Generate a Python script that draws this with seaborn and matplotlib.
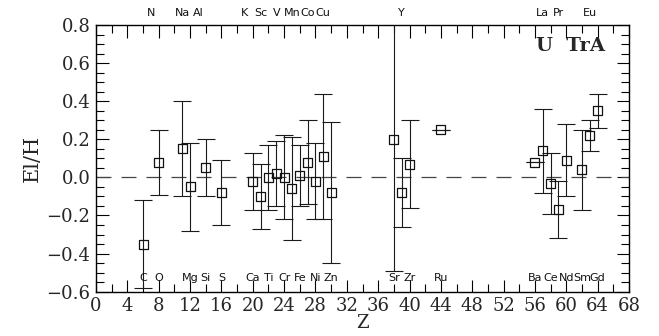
import matplotlib
matplotlib.use("Agg")
import matplotlib.pyplot as plt
import matplotlib.transforms as mtransforms
from matplotlib.ticker import MultipleLocator
import seaborn as sns
import pandas as pd

# Abundances [El/H] for U TrA
elements = ["C", "O", "Na", "Mg", "Si", "S", "Ca", "Sc", "Ti", "V", "Cr", "Mn", "Fe",
            "Co", "Ni", "Cu", "Zn", "Sr", "Y", "Zr", "Ru", "Ba", "La", "Ce", "Pr",
            "Nd", "Sm", "Eu", "Gd"]
z_num = [6, 8, 11, 12, 14, 16, 20, 21, 22, 23, 24, 25, 26, 27, 28, 29, 30, 38, 39, 40,
         44, 56, 57, 58, 59, 60, 62, 63, 64]
el_h = [-0.35, 0.08, 0.15, -0.05, 0.05, -0.08, -0.02, -0.10, 0.00, 0.02, 0.00, -0.06,
        0.01, 0.08, -0.02, 0.11, -0.08, 0.20, -0.08, 0.07, 0.25, 0.08, 0.14, -0.03,
        -0.17, 0.09, 0.04, 0.22, 0.35]
el_err = [0.23, 0.17, 0.25, 0.23, 0.15, 0.17, 0.15, 0.17, 0.17, 0.17, 0.22, 0.27, 0.16,
          0.22, 0.20, 0.33, 0.37, 0.69, 0.18, 0.23, 0.0, 0.0, 0.22, 0.16, 0.15, 0.19,
          0.21, 0.08, 0.09]

# element names printed along the axes (odd Z on top, even Z at the bottom)
label_el = ["C", "N", "O", "Na", "Mg", "Al", "Si", "S", "K", "Ca", "Sc", "Ti", "V", "Cr",
            "Mn", "Fe", "Co", "Ni", "Cu", "Zn", "Sr", "Y", "Zr", "Ru", "Ba", "La", "Ce",
            "Pr", "Nd", "Sm", "Eu", "Gd"]
label_z = [6, 7, 8, 11, 12, 13, 14, 16, 19, 20, 21, 22, 23, 24, 25, 26, 27, 28, 29, 30,
           38, 39, 40, 44, 56, 57, 58, 59, 60, 62, 63, 64]

df = pd.DataFrame({"element": elements, "Z": z_num, "ElH": el_h, "err": el_err})

sns.set_style("ticks")
plt.rcParams["font.family"] = ["DejaVu Serif"]

fig = plt.figure(figsize=(6.59, 3.36), dpi=100)
ax = fig.add_axes([96 / 659, 1 - 291.7 / 336, 533 / 659, 266.7 / 336])

# reference line at zero
ax.axhline(0, color="#444444", lw=0.9, dashes=(12, 8), zorder=1)

# error bars
ax.errorbar(df["Z"], df["ElH"], yerr=df["err"], fmt="none", ecolor="#1a1a1a",
            elinewidth=0.8, capsize=6.5, capthick=0.8, zorder=2)

# open squares (lines show through, as in the original)
sns.scatterplot(data=df, x="Z", y="ElH", marker="s", s=42, facecolor="none",
                edgecolor="#111111", linewidth=0.9, ax=ax, zorder=3, legend=False)

ax.set_xlim(0, 68)
ax.set_ylim(-0.6, 0.8)
ax.xaxis.set_major_locator(MultipleLocator(4))
ax.xaxis.set_minor_locator(MultipleLocator(2))
ax.yaxis.set_major_locator(MultipleLocator(0.2))
ax.yaxis.set_minor_locator(MultipleLocator(0.05))
ax.yaxis.set_major_formatter(matplotlib.ticker.FuncFormatter(lambda v, p: f"{v:.1f}".replace("-", "\u2212")))
ax.tick_params(which="both", direction="in", top=True, right=True, color="black", width=0.8)
ax.tick_params(which="major", length=9, labelsize=13, pad=4)
ax.tick_params(which="minor", length=6)
for sp in ax.spines.values():
    sp.set_linewidth(1.0)
    sp.set_color("black")

ax.set_xlabel("Z", fontsize=13, labelpad=-1)
ax.set_ylabel("El/H", fontsize=15, labelpad=3)

# element labels
trans = mtransforms.blended_transform_factory(ax.transData, ax.transAxes)
for name, zz in zip(label_el, label_z):
    if zz % 2:
        ax.text(zz, 1.045, name, transform=trans, ha="center", va="center",
                fontsize=8, family="DejaVu Sans", color="#111111")
    else:
        ax.text(zz, 0.052, name, transform=trans, ha="center", va="center",
                fontsize=8, family="DejaVu Sans", color="#111111")

ax.text(64.9, 0.69, "U  TrA", ha="right", va="center", fontsize=14, fontweight="bold")

fig.savefig("out.png", dpi=100)
